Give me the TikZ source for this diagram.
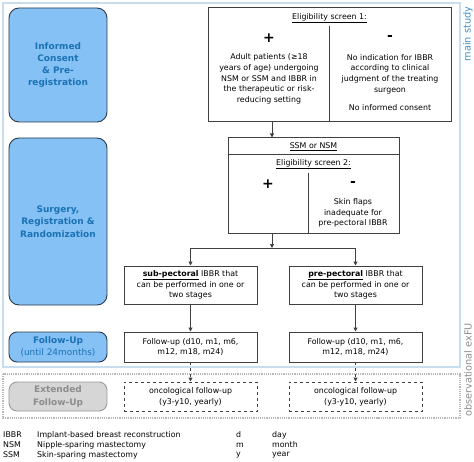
\documentclass[tikz,border=0pt]{standalone}
\usepackage{fontspec}
\setmainfont{DejaVu Sans}
\usetikzlibrary{arrows.meta}
\definecolor{phasefill}{HTML}{85C1F5}
\definecolor{phasetxt}{HTML}{1A72B5}
\definecolor{phasedraw}{HTML}{2B3A4A}
\definecolor{framebl}{HTML}{C8DDEE}
\definecolor{studytxt}{HTML}{3A8FC8}
\definecolor{grayfill}{HTML}{D6D6D6}
\definecolor{graydraw}{HTML}{9A9A9A}
\definecolor{graytxt}{HTML}{8C8C8C}
\definecolor{boxdraw}{HTML}{404040}
\tikzset{
  phase/.style={draw=phasedraw, fill=phasefill, rounded corners=10bp, line width=0.9bp,
    text=phasetxt, align=center, font=\fontsize{9}{12.3}\selectfont\bfseries, inner sep=0pt},
  extphase/.style={draw=graydraw, fill=grayfill, rounded corners=8bp, line width=0.9bp,
    text=graytxt, align=center, font=\fontsize{9}{12.3}\selectfont\bfseries, inner sep=0pt},
  flowbox/.style={draw=boxdraw, line width=1bp, align=center, inner sep=0pt},
  dashbox/.style={draw=boxdraw, line width=1bp, dashed, align=center, inner sep=0pt},
  txt/.style={align=center, inner sep=0pt},
  sign/.style={inner sep=0pt, font=\fontsize{14}{14}\selectfont\bfseries},
  arr/.style={draw=boxdraw, line width=1bp, -{Triangle[length=4bp,width=4bp]}},
  ln/.style={draw=boxdraw, line width=1bp},
  leg/.style={anchor=west, inner sep=0pt},
}
\begin{document}
\begin{tikzpicture}[x=1bp,y=-1bp, font=\fontsize{7.9}{10.7}\selectfont]
\useasboundingbox (0,0) rectangle (474,462);
% frames
\draw[framebl, line width=1.2bp] (3,3) rectangle (460,367);
\draw[graydraw!70, densely dotted, line width=1.2bp] (3,374) rectangle (460,418);
\node[rotate=90, text=studytxt, font=\fontsize{9.8}{9.8}\selectfont, inner sep=0pt] (ms) at (468,34) {main study};
\node[rotate=90, text=graytxt, font=\fontsize{9.8}{9.8}\selectfont, inner sep=0pt] (obs) at (468,370) {observational exFU};
% phases
\node[phase, minimum width=98bp, minimum height=114bp] (p1) at (58,65) {Informed\\Consent\\\& Pre-\\registration};
\node[phase, minimum width=98bp, minimum height=167bp] (p2) at (58,221.5) {Surgery,\\Registration \&\\Randomization};
\node[phase, rounded corners=8bp, minimum width=98bp, minimum height=30bp] (p3) at (58,347) {Follow-Up\\\mdseries(until 24months)};
\node[extphase, minimum width=98bp, minimum height=29bp] (p4) at (58,396.5) {Extended\\Follow-Up};
% eligibility 1
\node[flowbox, minimum width=243bp, minimum height=114bp] (e1) at (329.5,65) {};
\node[txt] (e1t) at (329.5,18) {\underline{Eligibility screen 1:}};
\coordinate (d1) at (329,26);
\draw[ln] (d1) -- (d1 |- e1.south);
\node[sign] (e1p) at (269,38) {+};
\node[sign] (e1m) at (390,38) {-};
\node[txt] (e1l) at (269,79) {Adult patients (≥18\\years of age) undergoing\\NSM or SSM and IBBR in\\the therapeutic or risk-\\reducing setting};
\node[txt] (e1r) at (390,74) {No indication for IBBR\\according to clinical\\judgment of the treating\\surgeon};
\node[txt] (e1r2) at (390,108) {No informed consent};
% eligibility 2
\node[flowbox, minimum width=171bp, minimum height=95bp] (e2) at (313.5,185.5) {};
\coordinate (h2) at (0,155);
\draw[ln] (h2 -| e2.west) -- (h2 -| e2.east);
\node[txt] (e2a) at (313.5,147) {\underline{SSM or NSM}};
\node[txt] (e2t) at (313.5,164) {\underline{Eligibility screen 2:}};
\coordinate (d2) at (308,173);
\draw[ln] (d2) -- (d2 |- e2.south);
\node[sign] (e2p) at (268,184) {+};
\node[sign] (e2m) at (353,184) {-};
\node[txt] (e2r) at (353,213) {Skin flaps\\inadequate for\\pre-pectoral IBBR};
% arms
\node[flowbox, minimum width=133bp, minimum height=38bp] (sub) at (190.5,285) {\textbf{\underline{sub-pectoral}} IBBR that\\can be performed in one or\\two stages};
\node[flowbox, minimum width=133bp, minimum height=38bp] (pre) at (355.5,285) {\textbf{\underline{pre-pectoral}} IBBR that\\can be performed in one or\\two stages};
\node[flowbox, minimum width=133bp, minimum height=30bp] (fu1) at (190.5,347) {Follow-up (d10, m1, m6,\\m12, m18, m24)};
\node[flowbox, minimum width=133bp, minimum height=30bp] (fu2) at (355.5,347) {Follow-up (d10, m1, m6,\\m12, m18, m24)};
\node[dashbox, minimum width=133bp, minimum height=29bp] (on1) at (190.5,396.5) {oncological follow-up\\(y3-y10, yearly)};
\node[dashbox, minimum width=133bp, minimum height=29bp] (on2) at (355.5,396.5) {oncological follow-up\\(y3-y10, yearly)};
% connectors
\coordinate (ax) at (272,0);
\coordinate (j) at (272,248);
\draw[arr] (e1.south -| ax) -- (e2.north -| ax);
\draw[arr] (e2.south -| ax) -- (j);
\draw[ln] (j -| sub) -- (j -| pre);
\draw[arr] (j -| sub) -- (sub.north);
\draw[arr] (j -| pre) -- (pre.north);
\draw[arr] (sub) -- (fu1);
\draw[arr] (pre) -- (fu2);
\draw[arr, dashed] (fu1) -- (on1);
\draw[arr, dashed] (fu2) -- (on2);
% legend
\node[leg] (l1a) at (3,435) {IBBR};
\node[leg] (l1b) at (37,435) {Implant-based breast reconstruction};
\node[leg] (l2a) at (3,445) {NSM};
\node[leg] (l2b) at (37,445) {Nipple-sparing mastectomy};
\node[leg] (l3a) at (3,455) {SSM};
\node[leg] (l3b) at (37,455) {Skin-sparing mastectomy};
\node[leg] (l1c) at (236,435) {d};
\node[leg] (l1d) at (272,435) {day};
\node[leg] (l2c) at (236,445) {m};
\node[leg] (l2d) at (272,445) {month};
\node[leg] (l3c) at (236,455) {y};
\node[leg] (l3d) at (272,455) {year};
\end{tikzpicture}
\end{document}
